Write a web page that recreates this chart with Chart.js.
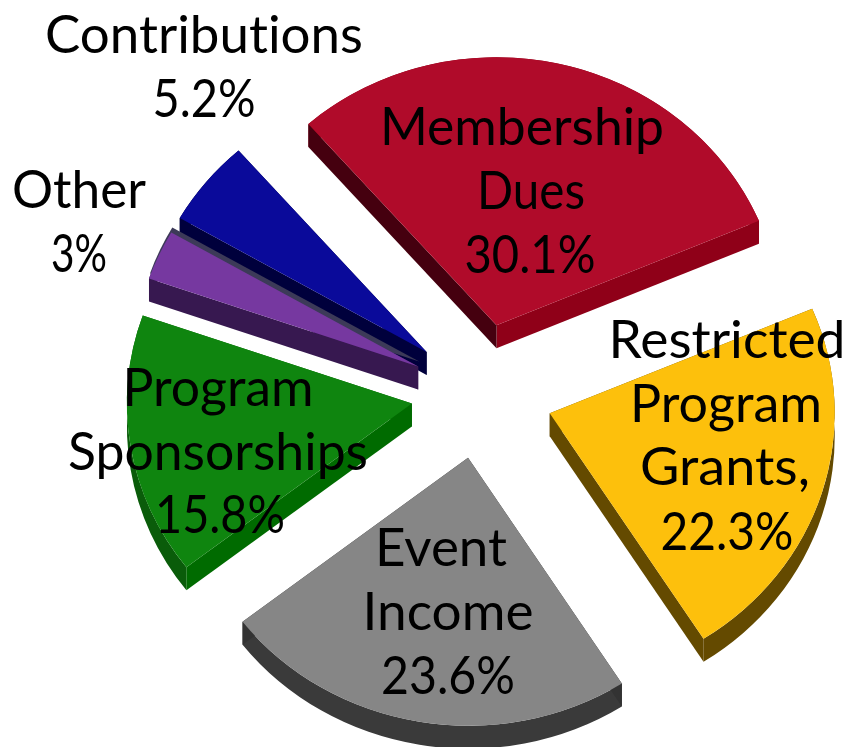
<!DOCTYPE html>
<html><head><meta charset="utf-8">
<style>html,body{margin:0;padding:0;background:#fff;overflow:hidden}canvas{display:block;filter:blur(0.5px)}</style>
<script src="https://cdn.jsdelivr.net/npm/chart.js@4"></script></head>
<body><canvas id="c" width="851" height="747"></canvas>
<script>
const categories = ["Membership Dues","Restricted Program Grants","Event Income","Program Sponsorships","Other","Contributions"];
const shares = [30.1,22.3,23.6,15.8,3,5.2];
const topColors = ["#b00b2a","#fdc00c","#868686","#0f850f","#7638a0","#0a0a9a"];
const sideStartColors = ["#45000f","#644a00","#333333","#006b00","#371850","#00003c"];
const sideEndColors = ["#8f0018","#644a00","#333333","#006b00","#371850","#00003c"];
const sideArcColors = ["#8f0018","#644a00","#3a3a3a","#0a5c0a","#371850","#00003c"];
const explode = [74,73,70,69,68,69];
const drawOrder = [0,1,2,3,5,4];
const labelLines = [["Membership","Dues","30.1%"],["Restricted","Program","Grants,","22.3%"],["Event","Income","23.6%"],["Program","Sponsorships","15.8%"],["Other","3%"],["Contributions","5.2%"]];
const labelX = [[522,531,530],[727,726,725,727],[441,448,448],[218,218,220],[79,79],[204,204]];
const labelBase = [[145,209,273],[358,422,485,550],[566,630,694],[406,470,533],[208,272],[53,117]];
const labelWidth = [[284,108,131],[237,192,170,133],[132,171,134],[191,300,130],[134,56],[318,103]];
const tilt = 0.94, depth = 23, rimIndex = 4, rimLift = 5, rimColor = "#3c3a58";

const pie3d = {
  id:"pie3d",
  beforeDatasetDraw(chart,args){
    const ctx = chart.ctx, arcs = args.meta.data;
    drawOrder.forEach(i=>{
      const a = arcs[i];
      const mid = (a.startAngle+a.endAngle)/2;
      const ax = a.x+Math.cos(mid)*explode[i];
      const ay = a.y+Math.sin(mid)*explode[i]*tilt;
      const r = a.outerRadius;
      const pt = t=>[ax+r*Math.cos(t), ay+r*tilt*Math.sin(t)];
      const quad = (t,c)=>{const p=pt(t);ctx.fillStyle=c;ctx.beginPath();ctx.moveTo(ax,ay);ctx.lineTo(p[0],p[1]);ctx.lineTo(p[0],p[1]+depth);ctx.lineTo(ax,ay+depth);ctx.closePath();ctx.fill();};
      ctx.fillStyle=sideArcColors[i];
      ctx.beginPath();
      ctx.ellipse(ax,ay,r,r*tilt,0,a.startAngle,a.endAngle);
      ctx.ellipse(ax,ay+depth,r,r*tilt,0,a.endAngle,a.startAngle,true);
      ctx.closePath();ctx.fill();
      quad(a.endAngle,sideEndColors[i]);
      quad(a.startAngle,sideStartColors[i]);
      if(i===rimIndex){
        ctx.fillStyle=rimColor;ctx.beginPath();ctx.moveTo(ax+1,ay-rimLift);
        ctx.ellipse(ax+1,ay-rimLift,r,r*tilt,0,a.startAngle,a.endAngle);ctx.closePath();ctx.fill();
      }
      ctx.save();
      ctx.translate(ax,ay);ctx.scale(1,tilt);ctx.translate(-a.x,-a.y);
      a.draw(ctx);
      ctx.restore();
    });
    return false;
  },
  afterDraw(chart){
    const ctx = chart.ctx;
    ctx.save();ctx.fillStyle="#000";ctx.textAlign="center";ctx.textBaseline="alphabetic";
    ctx.font='52px Lato';ctx.letterSpacing='0.01px';
    labelLines.forEach((ls,i)=>ls.forEach((t,j)=>{
      const w = ctx.measureText(t).width;
      ctx.save();ctx.translate(labelX[i][j],labelBase[i][j]);ctx.scale(labelWidth[i][j]/w,1);
      ctx.fillText(t,0,0);ctx.restore();
    }));
    ctx.restore();
  }
};
new Chart(document.getElementById("c"),{
  type:"pie",
  data:{labels:categories,datasets:[{data:shares,backgroundColor:topColors,borderWidth:0,radius:285}]},
  options:{responsive:false,animation:false,rotation:-41.3,
    layout:{padding:{left:109,top:39}},
    plugins:{legend:{display:false},tooltip:{enabled:false}}},
  plugins:[pie3d]
});
</script></body></html>
